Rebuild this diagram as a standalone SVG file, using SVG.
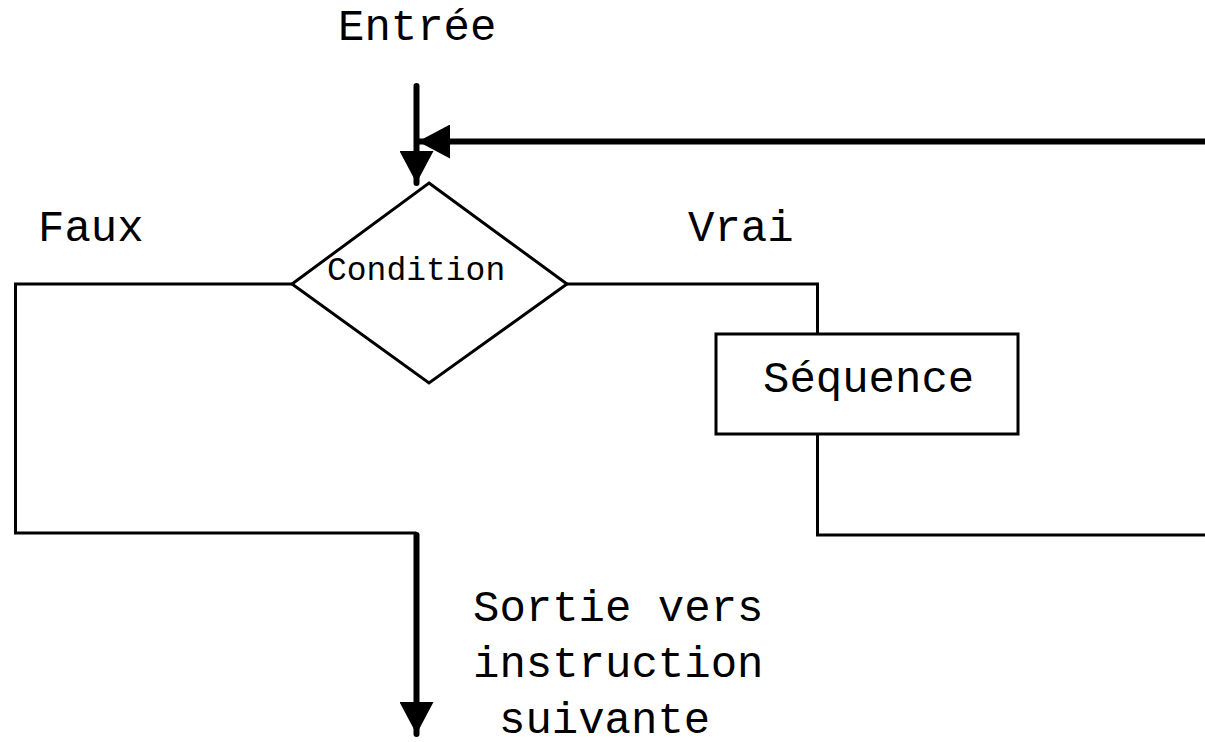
<svg xmlns="http://www.w3.org/2000/svg" width="1205" height="742" viewBox="0 0 1205 742">
<style>
.t{font-family:"Liberation Mono","Courier New",monospace;font-size:44px;fill:#000}
.c{font-size:33px}
.ln{fill:none;stroke:#000;stroke-width:3;stroke-linejoin:miter}
.ar{fill:none;stroke:#000;stroke-width:6;stroke-linecap:round}
.sh{fill:#fff;stroke:#000;stroke-width:3}
</style>
<defs>
<marker id="ah" viewBox="0 0 32 34" refX="32" refY="17" markerWidth="32" markerHeight="34" markerUnits="userSpaceOnUse" orient="auto">
<path d="M0,0 L32,17 L0,34 Z" fill="#000"/>
</marker>
</defs>
<rect width="1205" height="742" fill="#fff"/>
<g id="connectors">
<path class="ar" d="M416.5,86 V183" marker-end="url(#ah)"/>
<path class="ar" d="M1210,141.5 H418" marker-end="url(#ah)"/>
<path class="ln" d="M292,284 H15.5 V533 H416.5"/>
<path class="ar" d="M416.5,535 V734" marker-end="url(#ah)"/>
<path class="ln" d="M567,284 H817.5 V334"/>
<path class="ln" d="M817.5,434 V535 H1210"/>
</g>
<g id="condition">
<path class="sh" d="M429,183 L567,284 L429,383 L292,284 Z"/>
<text class="t c" x="327" y="280">Condition</text>
</g>
<g id="sequence">
<rect class="sh" x="716" y="334" width="302" height="100"/>
<text class="t" x="763" y="392">Séquence</text>
</g>
<g id="labels">
<text class="t" x="338" y="40">Entrée</text>
<text class="t" x="38" y="241">Faux</text>
<text class="t" x="688" y="241">Vrai</text>
<text class="t" x="473" y="621">Sortie vers</text>
<text class="t" x="473" y="677">instruction</text>
<text class="t" x="499" y="733">suivante</text>
</g>
</svg>
